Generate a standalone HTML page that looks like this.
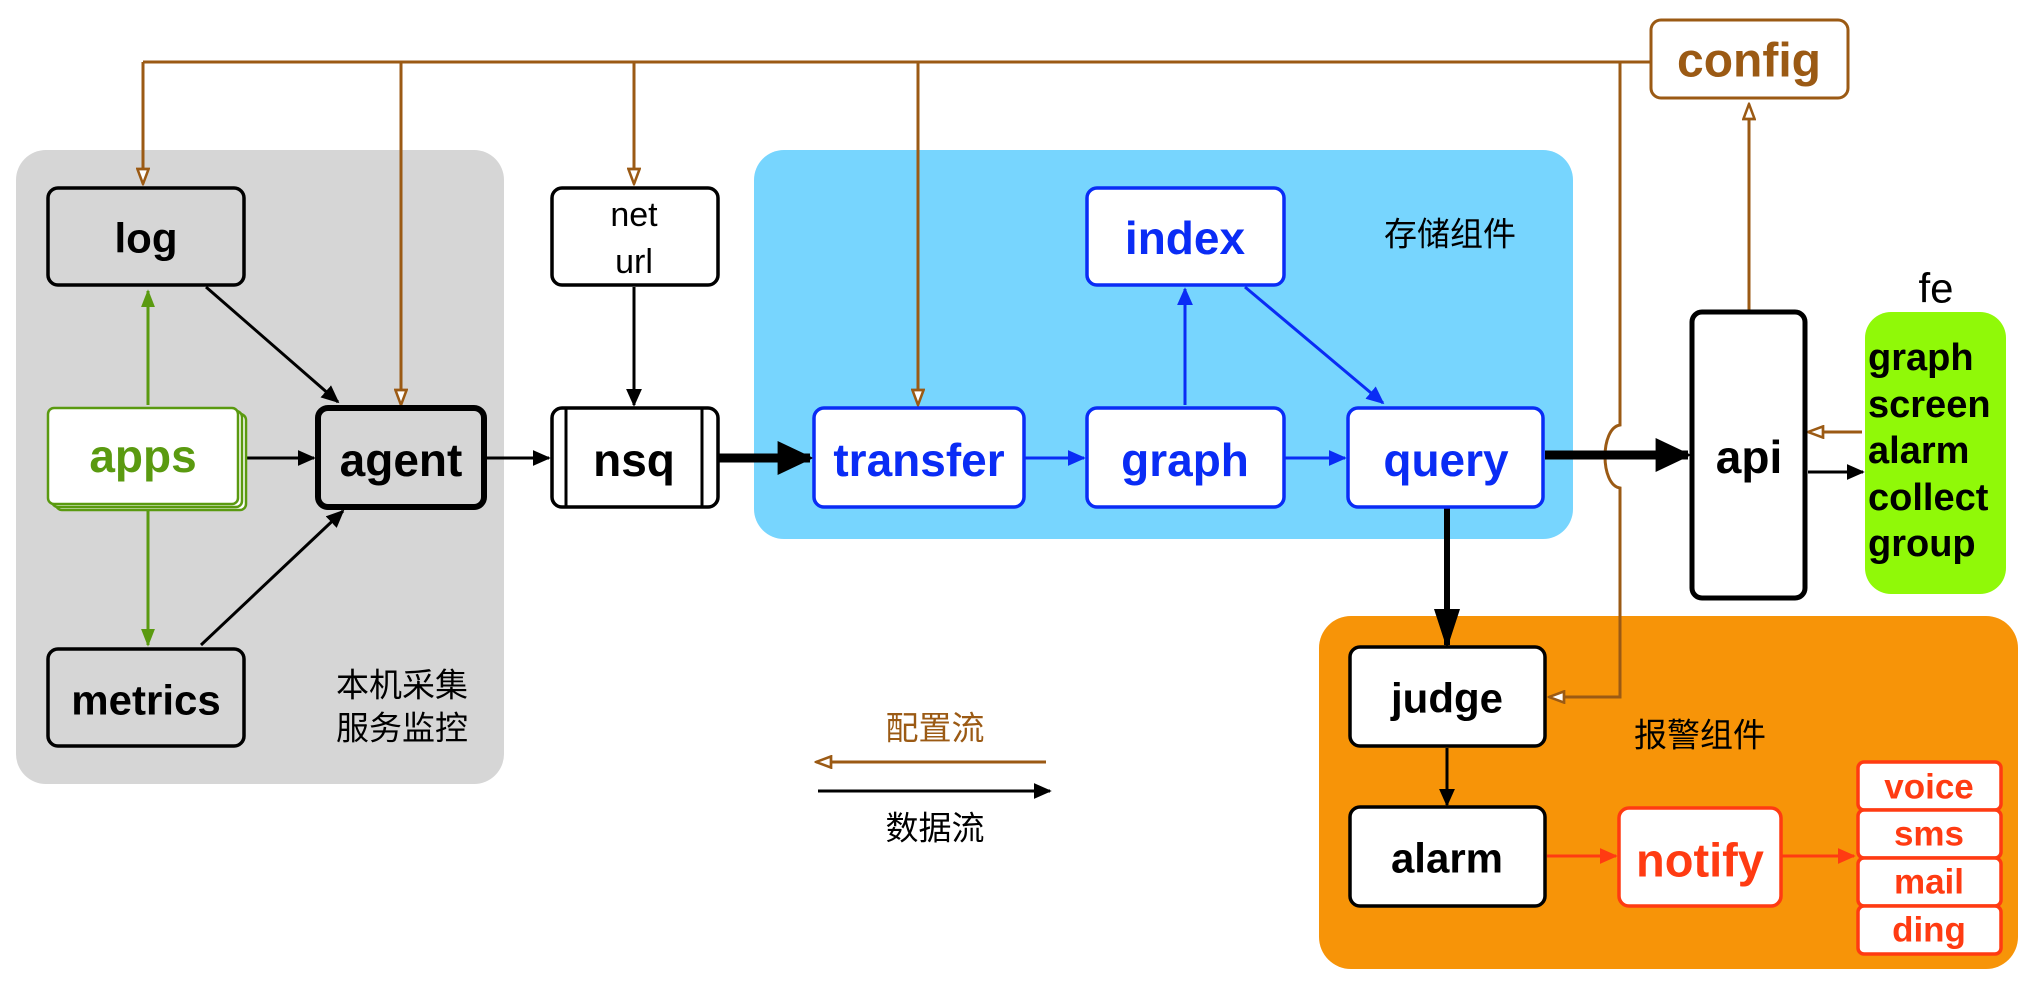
<!DOCTYPE html>
<html><head><meta charset="utf-8"><style>
body{margin:0;background:#fff}
svg text{font-family:"Liberation Sans","Noto Sans CJK SC",sans-serif;text-anchor:middle;dominant-baseline:central}
svg text.l{text-anchor:start}
</style></head><body>
<svg width="2042" height="980" viewBox="0 0 2042 980" xmlns="http://www.w3.org/2000/svg">
<defs>
<marker id="abk" viewBox="0 0 10 10" refX="9" refY="5" markerWidth="18" markerHeight="16" orient="auto" markerUnits="userSpaceOnUse" preserveAspectRatio="none"><path d="M0,0L10,5L0,10z" fill="#000"/></marker>
<marker id="abm" viewBox="0 0 10 10" refX="9" refY="5" markerWidth="36" markerHeight="34" orient="auto" markerUnits="userSpaceOnUse" preserveAspectRatio="none"><path d="M0,0L10,5L0,10z" fill="#000"/></marker>
<marker id="abv" viewBox="0 0 10 10" refX="9" refY="5" markerWidth="40" markerHeight="26" orient="auto" markerUnits="userSpaceOnUse" preserveAspectRatio="none"><path d="M0,0L10,5L0,10z" fill="#000"/></marker>
<marker id="abl" viewBox="0 0 10 10" refX="9" refY="5" markerWidth="18" markerHeight="16" orient="auto" markerUnits="userSpaceOnUse" preserveAspectRatio="none"><path d="M0,0L10,5L0,10z" fill="#0a2cf5"/></marker>
<marker id="ag" viewBox="0 0 10 10" refX="9" refY="5" markerWidth="18" markerHeight="14" orient="auto" markerUnits="userSpaceOnUse" preserveAspectRatio="none"><path d="M0,0L10,5L0,10z" fill="#5a9a10"/></marker>
<marker id="ar" viewBox="0 0 10 10" refX="9" refY="5" markerWidth="18" markerHeight="16" orient="auto" markerUnits="userSpaceOnUse" preserveAspectRatio="none"><path d="M0,0L10,5L0,10z" fill="#ff3b12"/></marker>
<marker id="ao" viewBox="0 0 12 10" refX="11" refY="5" markerWidth="18" markerHeight="14" orient="auto" markerUnits="userSpaceOnUse" preserveAspectRatio="none"><path d="M1,1L11,5L1,9z" fill="#fff" stroke="#9b5a14" stroke-width="1.8"/></marker>
</defs>

<rect x="16" y="150" width="488" height="634" rx="30" fill="#d6d6d6"/>
<rect x="754" y="150" width="819" height="389" rx="30" fill="#77d5fe"/>
<rect x="1319" y="616" width="699" height="353" rx="32" fill="#f79408"/>
<rect x="1865" y="312" width="141" height="282" rx="26" fill="#90f908"/>

<g stroke="#9b5a14" stroke-width="3" fill="none">
<path d="M143,62H1651"/>
<path d="M143,62V184" marker-end="url(#ao)"/>
<path d="M401,62V405" marker-end="url(#ao)"/>
<path d="M634,62V184" marker-end="url(#ao)"/>
<path d="M918,62V405" marker-end="url(#ao)"/>
<path d="M1620,62V425C1600,428 1600,485 1620,488V697H1549" marker-end="url(#ao)"/>
<path d="M1749,310V104" marker-end="url(#ao)"/>
<path d="M1862,432H1808" marker-end="url(#ao)"/>
<path d="M1046,762H816" marker-end="url(#ao)"/>
</g>

<g stroke="#000" stroke-width="3" fill="none">
<path d="M206,287L338,402" marker-end="url(#abk)"/>
<path d="M201,645L343,511" marker-end="url(#abk)"/>
<path d="M245,458H314" marker-end="url(#abk)"/>
<path d="M487,458H549" marker-end="url(#abk)"/>
<path d="M634,287V405" marker-end="url(#abk)"/>
<path d="M1447,748V805" marker-end="url(#abk)"/>
<path d="M1808,472H1863" marker-end="url(#abk)"/>
<path d="M818,791H1050" marker-end="url(#abk)"/>
</g>
<g stroke="#000" stroke-width="9" fill="none">
<path d="M719,458H810" marker-end="url(#abm)"/>
<path d="M1545,455H1688" marker-end="url(#abm)"/>
<path d="M1447,508V645" stroke-width="6" marker-end="url(#abv)"/>
</g>
<g stroke="#5a9a10" stroke-width="3" fill="none">
<path d="M148,405V291" marker-end="url(#ag)"/>
<path d="M148,510V645" marker-end="url(#ag)"/>
</g>
<g stroke="#0a2cf5" stroke-width="3" fill="none">
<path d="M1025,458H1084" marker-end="url(#abl)"/>
<path d="M1285,458H1345" marker-end="url(#abl)"/>
<path d="M1185,405V289" marker-end="url(#abl)"/>
<path d="M1245,287L1383,403" marker-end="url(#abl)"/>
</g>
<g stroke="#ff3b12" stroke-width="3" fill="none">
<path d="M1547,856H1616" marker-end="url(#ar)"/>
<path d="M1782,856H1854" marker-end="url(#ar)"/>
</g>

<g stroke="#000" stroke-width="3.5">
<rect x="48" y="188" width="196" height="97" rx="10" fill="#d6d6d6"/>
<rect x="48" y="649" width="196" height="97" rx="10" fill="#d6d6d6"/>
<rect x="318" y="408" width="166" height="99" rx="10" fill="#d6d6d6" stroke-width="6"/>
<rect x="552" y="188" width="166" height="97" rx="10" fill="#fff"/>
<rect x="552" y="408" width="166" height="99" rx="10" fill="#fff"/>
<path d="M566,408V507M702,408V507" stroke-width="3"/>
<rect x="1692" y="312" width="113" height="286" rx="10" fill="#fff" stroke-width="5"/>
<rect x="1350" y="647" width="195" height="99" rx="10" fill="#fff"/>
<rect x="1350" y="807" width="195" height="99" rx="10" fill="#fff"/>
</g>
<g stroke="#5a9a10" stroke-width="2.5" fill="#fff">
<rect x="56" y="414" width="190" height="96" rx="6"/>
<rect x="52" y="411" width="190" height="96" rx="6"/>
<rect x="48" y="408" width="190" height="96" rx="6"/>
</g>
<g stroke="#0a2cf5" stroke-width="3.5" fill="#fff">
<rect x="1087" y="188" width="197" height="97" rx="10"/>
<rect x="814" y="408" width="210" height="99" rx="10"/>
<rect x="1087" y="408" width="197" height="99" rx="10"/>
<rect x="1348" y="408" width="195" height="99" rx="10"/>
</g>
<rect x="1651" y="20" width="197" height="78" rx="10" fill="#fff" stroke="#9b5a14" stroke-width="3"/>
<g stroke="#ff3b12" stroke-width="3.5" fill="#fff">
<rect x="1619" y="808" width="162" height="98" rx="10"/>
<rect x="1858" y="762" width="143" height="48" rx="6"/>
<rect x="1858" y="810" width="143" height="48" rx="6"/>
<rect x="1858" y="858" width="143" height="48" rx="6"/>
<rect x="1858" y="906" width="143" height="48" rx="6"/>
</g>

<g font-weight="bold" font-size="42" fill="#000">
<text x="146" y="238">log</text>
<text x="146" y="700">metrics</text>
<text x="401" y="460" font-size="46">agent</text>
<text x="634" y="460" font-size="46">nsq</text>
<text x="1749" y="457" font-size="46">api</text>
<text x="1447" y="698">judge</text>
<text x="1447" y="858">alarm</text>
<text x="1749" y="61" font-size="48" fill="#9b5a14">config</text>
<text x="143" y="456" font-size="46" fill="#5a9a10">apps</text>
<g fill="#0a2cf5" font-size="46">
<text x="1185" y="238">index</text>
<text x="919" y="460">transfer</text>
<text x="1185" y="460">graph</text>
<text x="1446" y="460">query</text>
</g>
<g fill="#ff3b12">
<text x="1700" y="860" font-size="47">notify</text>
<text x="1929" y="787" font-size="35">voice</text>
<text x="1929" y="834" font-size="35">sms</text>
<text x="1929" y="882" font-size="35">mail</text>
<text x="1929" y="930" font-size="35">ding</text>
</g>
<g font-size="38">
<text class="l" x="1868" y="358">graph</text>
<text class="l" x="1868" y="405">screen</text>
<text class="l" x="1868" y="451">alarm</text>
<text class="l" x="1868" y="498">collect</text>
<text class="l" x="1868" y="544">group</text>
</g>
</g>
<g font-size="33" fill="#000">
<text x="634" y="215" font-size="34">net</text>
<text x="634" y="262" font-size="34">url</text>
<text x="1936" y="288" font-size="42">fe</text>
<text x="402" y="685">本机采集</text>
<text x="402" y="728">服务监控</text>
<text x="1450" y="234">存储组件</text>
<text x="1700" y="735">报警组件</text>
<text x="935" y="728" fill="#9b5a14">配置流</text>
<text x="935" y="828">数据流</text>
</g>
</svg>
</body></html>
